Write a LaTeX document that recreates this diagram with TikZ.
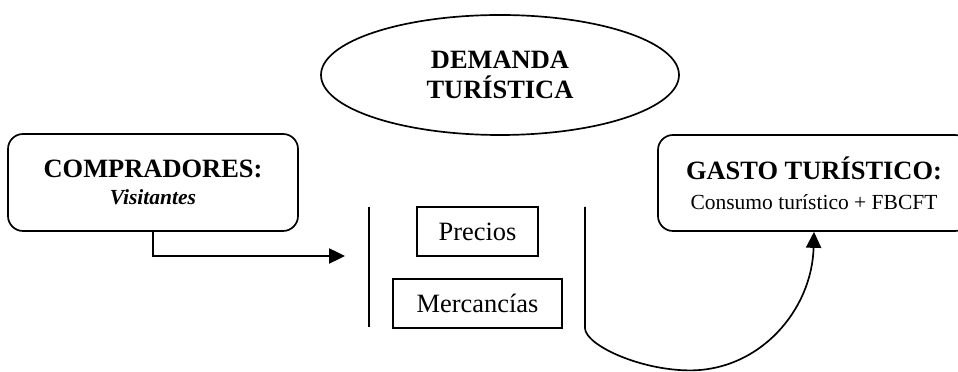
\documentclass[tikz,border=0pt]{standalone}
\usepackage{fontspec}
\setmainfont{Liberation Serif}
\usetikzlibrary{arrows.meta,shapes.geometric}

\tikzset{
  caja/.style={draw, line width=1.2pt, rounded corners=0.375cm, align=center, inner sep=0pt},
  cuadro/.style={draw, line width=1.2pt, inner sep=0pt, minimum height=1.225cm, font=\fontsize{18.8}{22}\selectfont},
  flecha/.style={line width=1.2pt, -{Triangle[length=0.4cm,width=0.38cm]}},
}
\newcommand{\titulo}[1]{{\fontsize{18.8}{22}\selectfont\bfseries #1}}
\newcommand{\subtitulo}[1]{{\fontsize{15.3}{18}\selectfont #1}}

\begin{document}
\begin{tikzpicture}
	\useasboundingbox (0,0) rectangle (23.95,9.3);
	\node[ellipse, draw, line width=1.2pt, minimum width=8.95cm, minimum height=3cm, inner sep=0pt, align=center, font=\fontsize{18.8}{21.3}\selectfont] (demanda) at (12.5,7.425) {\titulo{DEMANDA}\\\titulo{TURÍSTICA}};
	\node[caja, minimum width=7.25cm, minimum height=2.425cm, font=\fontsize{18.8}{19.2}\selectfont] (compradores) at (3.825,4.7375) {\titulo{COMPRADORES:}\\\subtitulo{\bfseries\itshape Visitantes}};
	\node[caja, minimum width=7.8cm, minimum height=2.4cm, font=\fontsize{18.8}{21.3}\selectfont] (gasto) at (20.35,4.725) {\titulo{GASTO TURÍSTICO:}\\\subtitulo{Consumo turístico + FBCFT}};
	\node[cuadro, minimum width=3.025cm] (precios) at (11.9375,3.5125) {Precios};
	\node[cuadro, minimum width=4.225cm] (mercancias) at (11.9375,1.7125) {Mercancías};
	\coordinate (entrada) at (8.625,2.9);
	\coordinate (izqA) at (9.225,4.125);
	\coordinate (izqB) at (9.225,1.125);
	\coordinate (derA) at (14.625,4.125);
	\coordinate (derB) at (14.625,1.1);
	\coordinate (fondo) at (17.25,0.04);
	\draw[line width=1.2pt] (izqA) -- (izqB);
	\draw[flecha] (compradores.south) |- (entrada);
	\draw[flecha] (derA) -- (derB) .. controls +(0,-0.425) and (16.0,0.04) .. (fondo) .. controls (19.0,0.04) and (20.3,1.55) .. (gasto.south);
\end{tikzpicture}
\end{document}
